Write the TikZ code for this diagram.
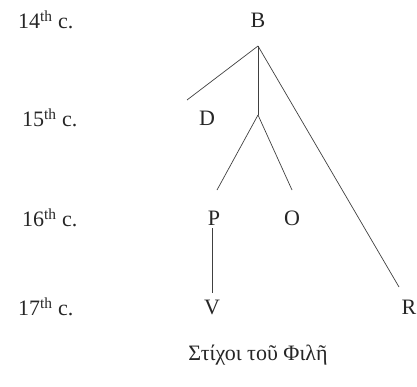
\documentclass[tikz,border=0pt]{standalone}
\usepackage{fontspec}
\setmainfont{Liberation Serif}

\begin{document}
\begin{tikzpicture}[x=1pt, y=-1pt,
  ms/.style={font=\fontsize{22}{26}\selectfont, inner sep=0pt, text=black!85},
  link/.style={line width=0.7pt, black!75}]
  \useasboundingbox (0,0) rectangle (417,386);
  % centuries
  \node[ms, anchor=west] (c14) at (18,20) {14\textsuperscript{th} c.};
  \node[ms, anchor=west] (c15) at (22,118) {15\textsuperscript{th} c.};
  \node[ms, anchor=west] (c16) at (22,218) {16\textsuperscript{th} c.};
  \node[ms, anchor=west] (c17) at (18,307) {17\textsuperscript{th} c.};
  % manuscripts
  \node[ms] (B) at (258,20) {B};
  \node[ms] (D) at (207,118) {D};
  \node[ms] (P) at (214,218) {P};
  \node[ms] (O) at (292,218) {O};
  \node[ms] (V) at (212,307) {V};
  \node[ms] (R) at (409,307) {R};
  % branch points
  \coordinate (top) at ([yshift=-26pt]B.center);
  \coordinate (mid) at (258,115);
  \coordinate (dend) at ([xshift=-20pt, yshift=18pt]D.center);
  % stemma
  \draw[link] (top) -- (dend);
  \draw[link] (top) -- (mid);
  \draw[link] (mid) -- ([xshift=3pt, yshift=28pt]P.center);
  \draw[link] (mid) -- ([yshift=28pt]O.center);
  \draw[link] ([xshift=-2pt, yshift=-10pt]P.center) -- ([yshift=14pt]V.center);
  \draw[link] (top) -- ([xshift=-10pt, yshift=20pt]R.center);
  % title
  \node[ms] (title) at (258,355) {Στίχοι τοῦ Φιλῆ};
\end{tikzpicture}
\end{document}
